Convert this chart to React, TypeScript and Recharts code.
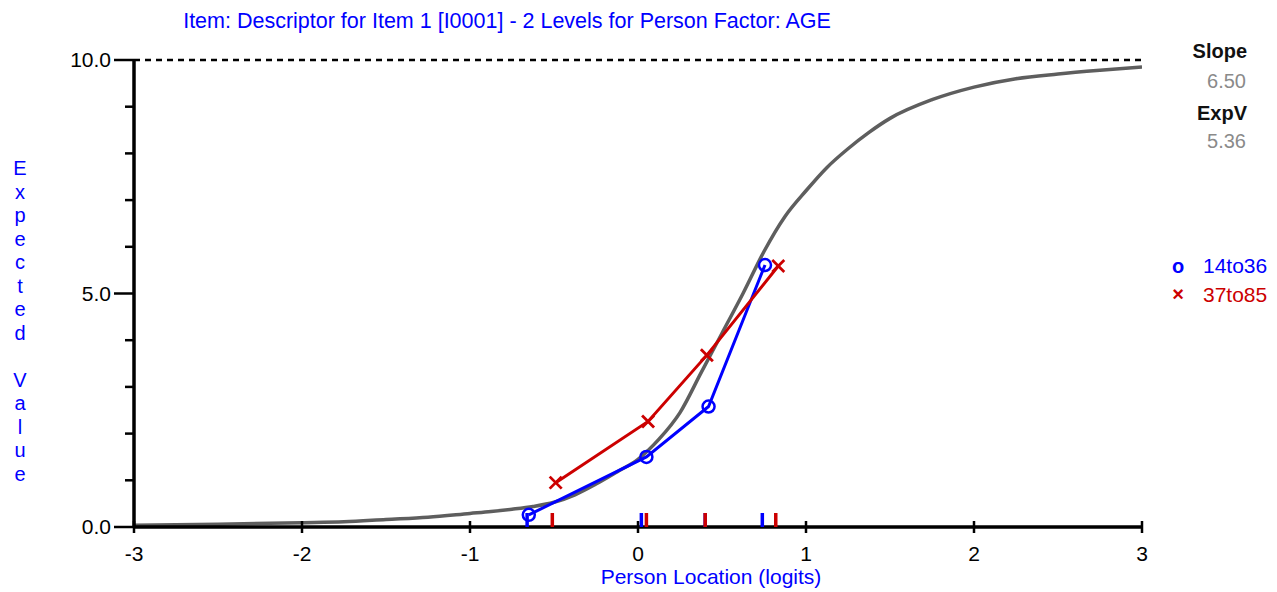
import React from 'react';
import { ComposedChart, Line, Scatter, XAxis, YAxis, ReferenceLine } from 'recharts';

// Expected value curve (ICC)
const curveX = [-3, -2.5, -2, -1.75, -1.5, -1.25, -1, -0.875, -0.75, -0.625, -0.5, -0.375, -0.25, -0.125, 0, 0.125, 0.25, 0.375, 0.5, 0.625, 0.75, 0.875, 1, 1.125, 1.25, 1.375, 1.5, 1.75, 2, 2.25, 2.5, 2.75, 3];
const curveY = [0.04, 0.06, 0.09, 0.11, 0.16, 0.21, 0.29, 0.33, 0.38, 0.44, 0.53, 0.69, 0.92, 1.18, 1.45, 1.88, 2.45, 3.3, 4.15, 5.0, 5.9, 6.65, 7.2, 7.7, 8.1, 8.45, 8.75, 9.15, 9.42, 9.6, 9.7, 9.78, 9.85];

// Group 1: 14to36
const group1Name = '14to36';
const group1X = [-0.65, 0.05, 0.42, 0.756];
const group1Y = [0.26, 1.5, 2.58, 5.61];
const group1Marks = [-0.66, 0.02, 0.4, 0.74];

// Group 2: 37to85
const group2Name = '37to85';
const group2X = [-0.49, 0.06, 0.41, 0.835];
const group2Y = [0.95, 2.26, 3.68, 5.59];
const group2Marks = [-0.51, 0.05, 0.4, 0.82];

const xTicks = [-3, -2, -1, 0, 1, 2, 3];
const yTicks = [0, 1, 2, 3, 4, 5, 6, 7, 8, 9, 10];
const yLabelTicks = [0, 5, 10];

const titleText = 'Item: Descriptor for Item 1 [I0001] - 2 Levels for Person Factor: AGE';
const xLabel = 'Person Location (logits)';
const yLabel = 'Expected Value';
const slopeValue = '6.50';
const expVValue = '5.36';

const curveData = curveX.map((x, i) => ({ x, y: curveY[i] }));
const group1Data = group1X.map((x, i) => ({ x, y: group1Y[i] }));
const group2Data = group2X.map((x, i) => ({ x, y: group2Y[i] }));
const marks1Data = group1Marks.map((x) => ({ x, y: 0 }));
const marks2Data = group2Marks.map((x) => ({ x, y: 0 }));

const FONT = 'Liberation Sans, Arial, sans-serif';
const BLUE = '#0000ff';
const RED = '#cc0000';
const GRAY = '#5e5e5e';

const YTick = (props: any) => {
  const { x, y, payload } = props;
  const v = payload.value;
  const major = yLabelTicks.includes(v);
  return (
    <g>
      <line x1={x - (major ? 20 : 9)} x2={x} y1={y} y2={y} stroke="#000" strokeWidth={2.5} />
      {major && (
        <text x={x - 23} y={y + 7} textAnchor="end" fontSize={21} fontFamily={FONT} fill="#000">
          {v.toFixed(1)}
        </text>
      )}
    </g>
  );
};

const XTick = (props: any) => {
  const { x, y, payload } = props;
  return (
    <g>
      <line x1={x} x2={x} y1={y - 6} y2={y + 6} stroke="#000" strokeWidth={2.5} />
      <text x={x} y={y + 34} textAnchor="middle" fontSize={21} fontFamily={FONT} fill="#000">
        {payload.value}
      </text>
    </g>
  );
};

const CircleDot = (props: any) => {
  const { cx, cy, index } = props;
  return <circle key={`c${index}`} cx={cx} cy={cy} r={6} fill="none" stroke={BLUE} strokeWidth={2.5} />;
};

const CrossDot = (props: any) => {
  const { cx, cy, index } = props;
  return (
    <g key={`x${index}`}>
      <line x1={cx - 6} y1={cy - 6} x2={cx + 6} y2={cy + 6} stroke={RED} strokeWidth={2.8} />
      <line x1={cx - 6} y1={cy + 6} x2={cx + 6} y2={cy - 6} stroke={RED} strokeWidth={2.8} />
    </g>
  );
};

const markShape = (color: string) => (props: any) => {
  const { cx, cy } = props;
  return <rect x={cx - 1.75} y={cy - 14} width={3.5} height={14} fill={color} />;
};

export default function App() {
  const yLetters = yLabel.split('');
  return (
    <div style={{ position: 'absolute', left: 0, top: 0, width: 1277, height: 592, background: '#fff' }}>
      <ComposedChart width={1277} height={592} margin={{ top: 60, right: 135, bottom: 0, left: 0 }}>
        <XAxis
          dataKey="x"
          type="number"
          domain={[-3, 3]}
          ticks={xTicks}
          allowDataOverflow
          height={65}
          tickSize={0}
          tickMargin={0}
          tickLine={false}
          axisLine={{ stroke: '#000', strokeWidth: 3.5 }}
          tick={<XTick />}
          interval={0}
        />
        <YAxis
          dataKey="y"
          type="number"
          domain={[0, 10]}
          ticks={yTicks}
          allowDataOverflow
          width={134}
          tickSize={0}
          tickMargin={0}
          tickLine={false}
          axisLine={{ stroke: '#000', strokeWidth: 3.5 }}
          tick={<YTick />}
          interval={0}
        />
        <ReferenceLine y={10} stroke="#000" strokeWidth={2.5} strokeDasharray="6 5" />
        <Line
          data={curveData}
          dataKey="y"
          type="monotone"
          stroke={GRAY}
          strokeWidth={3.5}
          dot={false}
          activeDot={false}
          isAnimationActive={false}
        />
        <Line
          data={group1Data}
          dataKey="y"
          name={group1Name}
          type="linear"
          stroke={BLUE}
          strokeWidth={3}
          dot={<CircleDot />}
          activeDot={false}
          isAnimationActive={false}
        />
        <Line
          data={group2Data}
          dataKey="y"
          name={group2Name}
          type="linear"
          stroke={RED}
          strokeWidth={3}
          dot={<CrossDot />}
          activeDot={false}
          isAnimationActive={false}
        />
        <Scatter data={marks1Data} dataKey="y" shape={markShape(BLUE)} isAnimationActive={false} />
        <Scatter data={marks2Data} dataKey="y" shape={markShape(RED)} isAnimationActive={false} />
      </ComposedChart>
      <svg
        width={1277}
        height={592}
        style={{ position: 'absolute', left: 0, top: 0, pointerEvents: 'none' }}
        fontFamily={FONT}
      >
        <text x={507} y={28} textAnchor="middle" fontSize={21.5} fill={BLUE}>
          {titleText}
        </text>
        <text x={711} y={584} textAnchor="middle" fontSize={21} fill={BLUE}>
          {xLabel}
        </text>
        <text x={20} textAnchor="middle" fontSize={20} fill={BLUE}>
          {yLetters.map((ch, i) => (
            <tspan key={i} x={20} y={175 + i * 23.5}>
              {ch === ' ' ? '\u00a0' : ch}
            </tspan>
          ))}
        </text>
        <text x={1247} y={58} textAnchor="end" fontSize={20} fontWeight="bold" fill="#111">
          Slope
        </text>
        <text x={1246} y={88} textAnchor="end" fontSize={20} fill="#8a8a8a">
          {slopeValue}
        </text>
        <text x={1247} y={120} textAnchor="end" fontSize={20} fontWeight="bold" fill="#111">
          ExpV
        </text>
        <text x={1246} y={148} textAnchor="end" fontSize={20} fill="#8a8a8a">
          {expVValue}
        </text>
        <text x={1178} y={273} textAnchor="middle" fontSize={20} fontWeight="bold" fill={BLUE}>
          o
        </text>
        <text x={1203} y={273} fontSize={21} fill={BLUE}>
          {group1Name}
        </text>
        <text x={1178} y={301} textAnchor="middle" fontSize={20} fontWeight="bold" fill={RED}>
          ×
        </text>
        <text x={1203} y={302} fontSize={21} fill={RED}>
          {group2Name}
        </text>
      </svg>
    </div>
  );
}
